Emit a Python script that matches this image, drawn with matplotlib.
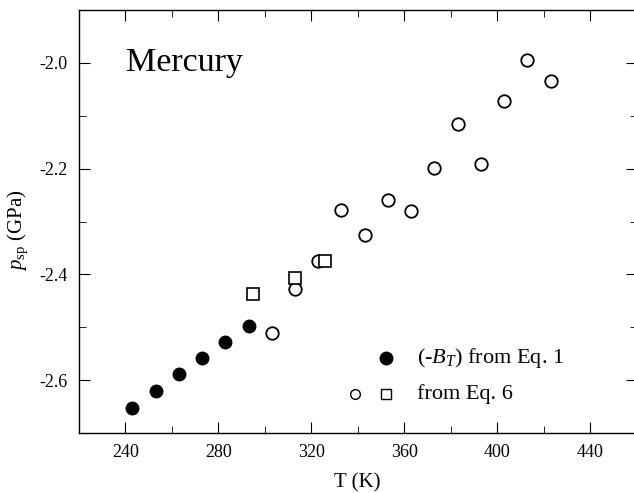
import matplotlib
matplotlib.use("Agg")
import matplotlib.pyplot as plt
from matplotlib.ticker import MultipleLocator

plt.rcParams['font.family'] = ['Liberation Serif', 'DejaVu Serif']
plt.rcParams['mathtext.fontset'] = 'custom'
plt.rcParams['mathtext.rm'] = 'Liberation Serif'
plt.rcParams['mathtext.it'] = 'Liberation Serif:italic'

# spinodal pressure of mercury
T_bulk = [243, 253, 263, 273, 283, 293]
p_bulk = [-2.653, -2.621, -2.589, -2.558, -2.528, -2.498]

T_circ = [303, 313, 323, 333, 343, 353, 363, 373, 383, 393, 403, 413, 423]
p_circ = [-2.511, -2.427, -2.374, -2.278, -2.325, -2.260, -2.281,
          -2.199, -2.115, -2.192, -2.073, -1.995, -2.034]

T_sq = [295, 313, 326]
p_sq = [-2.437, -2.406, -2.374]

fig = plt.figure(figsize=(6.34, 4.93), dpi=100)
ax = fig.add_axes([79 / 634, 60 / 493, 557.5 / 634, 423 / 493])

ax.plot(T_bulk, p_bulk, 'o', color='black', ms=9, mec='black')
ax.plot(T_circ, p_circ, 'o', mfc='white', mec='black', mew=1.3, ms=9)
ax.plot(T_sq, p_sq, 's', mfc='white', mec='black', mew=1.2, ms=8)

ax.set_xlim(220, 460)
ax.set_ylim(-2.7, -1.9)
ax.xaxis.set_major_locator(MultipleLocator(40))
ax.xaxis.set_minor_locator(MultipleLocator(20))
ax.yaxis.set_major_locator(MultipleLocator(0.2))
ax.yaxis.set_minor_locator(MultipleLocator(0.1))
ax.yaxis.set_major_formatter(plt.FuncFormatter(lambda v, _: f"{v:.1f}"))
ax.tick_params(which='both', direction='in', top=True, right=True,
               labelsize=13, pad=8)
ax.tick_params(which='major', length=8)
ax.tick_params(which='minor', length=5)
for s in ax.spines.values():
    s.set_linewidth(1.0)
ax.spines['right'].set_visible(False)

ax.set_xlabel('T (K)', fontsize=15, labelpad=9)
ax.set_ylabel(r'$p_{\rm sp}$ (GPa)', fontsize=15)
ax.yaxis.set_label_coords(-0.088, 0.48)

ax.text(0.084, 0.875, 'Mercury', transform=ax.transAxes, fontsize=24.5,
        va='center', ha='left')

# legend drawn by hand
ax.plot([0.551], [0.177], 'o', color='black', ms=9, transform=ax.transAxes)
ax.plot([0.495], [0.092], 'o', mfc='white', mec='black', mew=1.0, ms=7,
        transform=ax.transAxes)
ax.plot([0.551], [0.092], 's', mfc='white', mec='black', mew=1.0, ms=7,
        transform=ax.transAxes)
ax.text(0.606, 0.177, r'(-$B_T$) from Eq. 1', transform=ax.transAxes,
        fontsize=16, va='center', ha='left')
ax.text(0.606, 0.092, 'from Eq. 6', transform=ax.transAxes,
        fontsize=16, va='center', ha='left')

fig.savefig('out.png', dpi=100)
